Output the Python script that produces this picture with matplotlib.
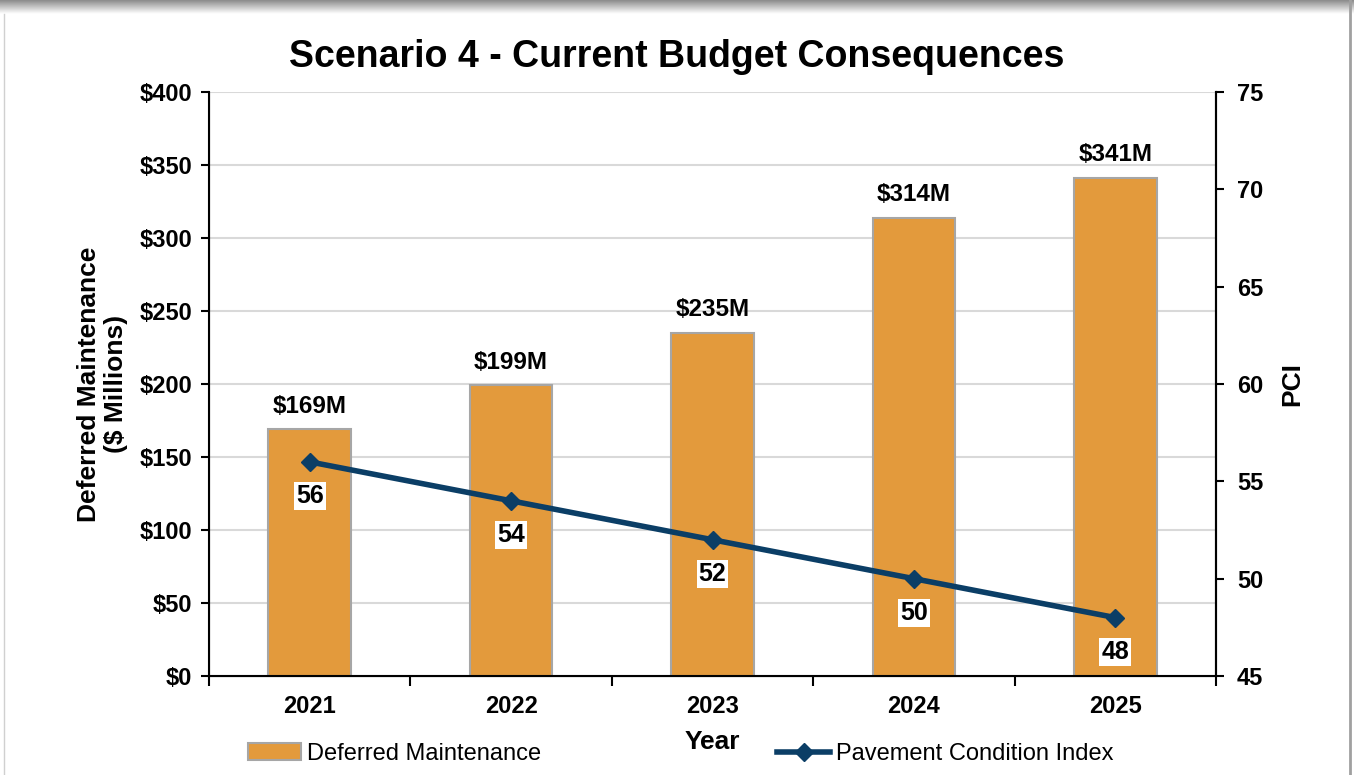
import numpy as np
import matplotlib.pyplot as plt

# Data
years = ["2021", "2022", "2023", "2024", "2025"]
deferred = [169, 199, 235, 314, 341]  # $ millions
pci = [56, 54, 52, 50, 48]

bar_color = "#E39A3C"
line_color = "#0B3E66"

plt.rcParams['font.family'] = ['Liberation Sans', 'DejaVu Sans']

fig = plt.figure(figsize=(13.54, 7.75), dpi=100)

# shadow band at the top and thin frame on the right
bg = fig.add_axes([0, 0, 1, 1], zorder=-10)
bg.set_xlim(0, 1)
bg.set_ylim(0, 1)
bg.axis("off")
grad = np.linspace(0.55, 1.0, 30).reshape(-1, 1)
bg.imshow(grad, cmap="gray", vmin=0, vmax=1, aspect="auto",
          extent=[0, 1, 1 - 14 / 775, 1], zorder=-10)
bg.axvline(1 - 4 / 1354, color="#a0a0a0", lw=2)
bg.axvline(4 / 1354, ymax=1 - 14 / 775, color="#d0d0d0", lw=1)

ax = fig.add_axes([209 / 1354, 1 - 676 / 775, (1216 - 209) / 1354, (676 - 92) / 775])
x = np.arange(len(years))

bars = ax.bar(x, deferred, width=0.41, color=bar_color, edgecolor="#a6a6a6",
              linewidth=1.5, zorder=2, label="Deferred Maintenance")
for xi, v in zip(x, deferred):
    ax.text(xi, v + 8, f"${v}M", ha="center", va="bottom", fontsize=17.5,
            fontweight="bold")

ax.set_xlim(-0.5, len(years) - 0.5)
ax.set_ylim(0, 400)
ax.set_yticks(range(0, 401, 50))
ax.set_yticklabels([f"${v}" for v in range(0, 401, 50)], fontsize=17, fontweight="bold")
ax.set_xticks(x)
ax.set_xticklabels(years, fontsize=17, fontweight="bold")
ax.set_xticks(np.arange(-0.5, len(years), 1), minor=True)
ax.tick_params(axis="x", which="major", length=0, pad=14)
ax.tick_params(axis="x", which="minor", length=7, width=1.5, direction="out")
ax.tick_params(axis="y", length=6, width=1.5, direction="out", pad=6)
ax.grid(axis="y", color="#d9d9d9", linewidth=1.5, zorder=0)
ax.set_axisbelow(True)
ax.spines["top"].set_visible(False)
for s in ["left", "right", "bottom"]:
    ax.spines[s].set_linewidth(1.5)
ax.set_ylabel("Deferred Maintenance\n($ Millions)", fontsize=19, fontweight="bold",
              labelpad=8)
ax.set_xlabel("Year", fontsize=19, fontweight="bold", labelpad=8)

ax2 = ax.twinx()
ax2.plot(x, pci, color=line_color, linewidth=4, marker="D", markersize=9,
         label="Pavement Condition Index", zorder=3)
for xi, v in zip(x, pci):
    ax2.text(xi, v - 1.75, str(v), ha="center", va="center", fontsize=18,
             fontweight="bold", bbox=dict(facecolor="white", edgecolor="none", pad=1.5))
ax2.set_ylim(45, 75)
ax2.set_yticks(range(45, 76, 5))
ax2.set_yticklabels([str(v) for v in range(45, 76, 5)], fontsize=17, fontweight="bold")
ax2.tick_params(axis="y", length=6, width=1.5, direction="out", pad=9)
ax2.spines["top"].set_visible(False)
ax2.spines["right"].set_linewidth(1.5)
ax2.set_ylabel("PCI", fontsize=19, fontweight="bold", labelpad=12)

fig.text(0.5, 1 - 57 / 775, "Scenario 4 - Current Budget Consequences", ha="center",
         va="center", fontsize=27, fontweight="bold")

h1, l1 = ax.get_legend_handles_labels()
h2, l2 = ax2.get_legend_handles_labels()
fig.legend(h1 + h2, l1 + l2, loc="center", bbox_to_anchor=(681 / 1354, 1 - 754 / 775),
           ncol=2, frameon=False, fontsize=17, columnspacing=10, handlelength=2.25,
           handletextpad=0.25)

plt.savefig("out.png", dpi=100)
